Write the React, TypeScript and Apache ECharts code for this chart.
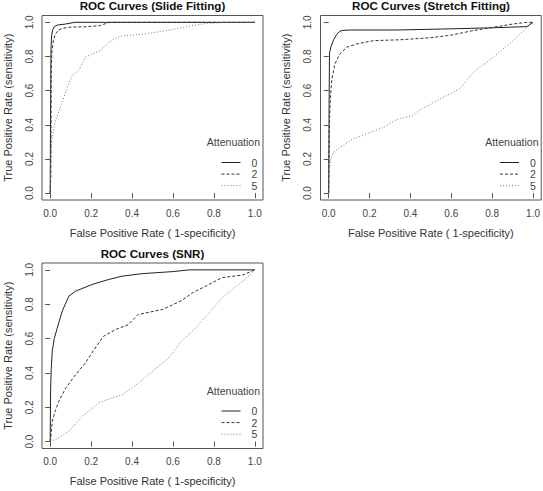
import React, { useEffect, useRef } from "react";
import * as echarts from "echarts";

// ---------- data ----------
const tickValues = [0, 0.2, 0.4, 0.6, 0.8, 1.0];
const seriesNames = ["0", "2", "5"];
const panelTitles = ["ROC Curves (Slide Fitting)", "ROC Curves (Stretch Fitting)", "ROC Curves (SNR)"];
const xTitle = "False Positive Rate ( 1-specificity)";
const yTitle = "True Positive Rate (sensitivity)";
const legendTitle = "Attenuation";

// Slide Fitting
const slide0Fpr = [0, 0.002, 0.004, 0.007, 0.012, 0.02, 0.035, 0.075, 0.12, 1.0];
const slide0Tpr = [0, 0.5, 0.85, 0.92, 0.955, 0.975, 0.984, 0.99, 1.0, 1.0];
const slide2Fpr = [0, 0.003, 0.005, 0.008, 0.015, 0.025, 0.04, 0.06, 0.1, 0.17, 0.24, 0.29, 1.0];
const slide2Tpr = [0, 0.1, 0.7, 0.82, 0.89, 0.93, 0.955, 0.965, 0.972, 0.974, 0.98, 1.0, 1.0];
const slide5Fpr = [0, 0.002, 0.005, 0.015, 0.026, 0.04, 0.055, 0.075, 0.09, 0.107, 0.14, 0.172, 0.205, 0.245, 0.286, 0.343, 0.45, 0.61, 0.69, 0.77, 0.87, 1.0];
const slide5Tpr = [0, 0.1, 0.27, 0.36, 0.425, 0.47, 0.52, 0.59, 0.64, 0.688, 0.72, 0.795, 0.815, 0.834, 0.883, 0.92, 0.93, 0.96, 0.98, 0.994, 1.0, 1.0];

// Stretch Fitting
const stretch0Fpr = [0, 0.002, 0.004, 0.012, 0.025, 0.04, 0.055, 0.07, 0.1, 0.33, 0.6, 0.8, 0.97, 1.0];
const stretch0Tpr = [0, 0.5, 0.82, 0.86, 0.9, 0.93, 0.948, 0.953, 0.955, 0.955, 0.962, 0.968, 0.975, 1.0];
const stretch2Fpr = [0, 0.004, 0.008, 0.015, 0.03, 0.055, 0.088, 0.135, 0.22, 0.35, 0.5, 0.6, 0.7, 0.8, 0.9, 0.97, 1.0];
const stretch2Tpr = [0, 0.43, 0.55, 0.66, 0.756, 0.815, 0.854, 0.873, 0.893, 0.898, 0.91, 0.925, 0.95, 0.97, 0.99, 1.0, 1.0];
const stretch5Fpr = [0, 0.003, 0.01, 0.023, 0.04, 0.07, 0.12, 0.185, 0.27, 0.33, 0.41, 0.45, 0.51, 0.575, 0.64, 0.71, 0.81, 0.9, 0.98, 1.0];
const stretch5Tpr = [0, 0.13, 0.2, 0.24, 0.255, 0.28, 0.318, 0.347, 0.386, 0.43, 0.454, 0.49, 0.53, 0.57, 0.61, 0.71, 0.8, 0.89, 0.98, 1.0];

// SNR
const snr0Fpr = [0, 0.002, 0.005, 0.01, 0.02, 0.034, 0.059, 0.091, 0.124, 0.205, 0.286, 0.35, 0.45, 0.6, 0.68, 1.0];
const snr0Tpr = [0, 0.3, 0.42, 0.526, 0.6, 0.66, 0.76, 0.847, 0.876, 0.915, 0.944, 0.963, 0.978, 0.99, 1.0, 1.0];
const snr2Fpr = [0, 0.002, 0.01, 0.025, 0.042, 0.075, 0.124, 0.172, 0.22, 0.26, 0.32, 0.38, 0.43, 0.55, 0.64, 0.7, 0.76, 0.84, 0.94, 1.0];
const snr2Tpr = [0, 0.01, 0.118, 0.18, 0.235, 0.31, 0.39, 0.458, 0.545, 0.613, 0.653, 0.68, 0.74, 0.77, 0.82, 0.87, 0.905, 0.955, 0.97, 1.0];
const snr5Fpr = [0, 0.04, 0.09, 0.156, 0.237, 0.3, 0.35, 0.43, 0.51, 0.58, 0.64, 0.71, 0.77, 0.84, 0.9, 0.97, 1.0];
const snr5Tpr = [0, 0.02, 0.06, 0.145, 0.225, 0.254, 0.272, 0.34, 0.42, 0.487, 0.584, 0.66, 0.74, 0.837, 0.895, 0.963, 1.0];

const panelData = [
  [[slide0Fpr, slide0Tpr], [slide2Fpr, slide2Tpr], [slide5Fpr, slide5Tpr]],
  [[stretch0Fpr, stretch0Tpr], [stretch2Fpr, stretch2Tpr], [stretch5Fpr, stretch5Tpr]],
  [[snr0Fpr, snr0Tpr], [snr2Fpr, snr2Tpr], [snr5Fpr, snr5Tpr]],
];

// ---------- layout / style ----------
const FONT = "Liberation Sans";
const grids = [
  { left: 42, top: 15.5, width: 221, height: 184.5 },
  { left: 320.5, top: 15.5, width: 221, height: 184.5 },
  { left: 42, top: 263, width: 221, height: 185.5 },
];
const lineStyles = [
  { color: "#222", width: 1, type: "solid" },
  { color: "#333", width: 1, type: [3, 2] },
  { color: "#777", width: 1, type: [1, 2] },
];

export default function App() {
  const ref = useRef<HTMLDivElement>(null);
  useEffect(() => {
    document.body.style.margin = "0";
    const chart = echarts.init(ref.current!, null, { renderer: "svg" });
    const xAxis: any[] = [];
    const yAxis: any[] = [];
    const series: any[] = [];
    const legend: any[] = [];
    const graphic: any[] = [];
    grids.forEach((g, i) => {
      const common = {
        gridIndex: i,
        type: "value",
        min: -0.04,
        max: 1.04,
        axisLine: { show: false },
        splitLine: { show: false },
        axisTick: { show: true, customValues: tickValues, length: 5, lineStyle: { color: "#555" } },
        nameLocation: "middle",
        nameTextStyle: { fontFamily: FONT, fontSize: 11, color: "#333" },
      };
      xAxis.push({
        ...common,
        name: xTitle,
        nameGap: 27,
        axisLabel: {
          customValues: tickValues,
          formatter: (v: number) => v.toFixed(1),
          margin: 8,
          fontFamily: FONT,
          fontSize: 10,
          color: "#444",
        },
      });
      yAxis.push({
        ...common,
        name: yTitle,
        nameGap: 29,
        axisLabel: {
          customValues: tickValues,
          formatter: (v: number) => v.toFixed(1),
          margin: 8,
          rotate: 90,
          fontFamily: FONT,
          fontSize: 10,
          color: "#444",
        },
      });
      panelData[i].forEach(([fpr, tpr], k) => {
        series.push({
          type: "line",
          name: seriesNames[k],
          xAxisIndex: i,
          yAxisIndex: i,
          symbol: "none",
          data: fpr.map((x, j) => [x, tpr[j]]),
          lineStyle: lineStyles[k],
          itemStyle: { color: lineStyles[k].color },
        });
      });
      const right = g.left + g.width;
      const bottom = g.top + g.height;
      legend.push({
        orient: "vertical",
        left: right - 42,
        top: bottom - 43,
        padding: 0,
        itemWidth: 19,
        itemHeight: 10,
        itemGap: 0.6,
        data: seriesNames,
        selectedMode: false,
        itemStyle: { opacity: 0 },
        lineStyle: { width: 1 },
        textStyle: { fontFamily: FONT, fontSize: 10.5, lineHeight: 10, color: "#444", padding: [0, 0, 0, 6] },
      });
      graphic.push({
        type: "text",
        x: right - 3,
        y: bottom - 58,
        style: { text: legendTitle, font: `10.5px ${FONT}`, fill: "#444", align: "right", verticalAlign: "middle" },
      });
      graphic.push({
        type: "text",
        x: g.left + g.width / 2,
        y: g.top - 10,
        style: { text: panelTitles[i], font: `bold 11.6px ${FONT}`, fill: "#111", align: "center", verticalAlign: "middle" },
      });
    });
    chart.setOption({
      animation: false,
      backgroundColor: "#fff",
      grid: grids.map((g) => ({ ...g, show: true, borderColor: "#555", borderWidth: 1, backgroundColor: "transparent", containLabel: false })),
      xAxis,
      yAxis,
      series,
      legend,
      graphic,
    });
    return () => chart.dispose();
  }, []);
  return <div ref={ref} style={{ width: 543, height: 491 }} />;
}
